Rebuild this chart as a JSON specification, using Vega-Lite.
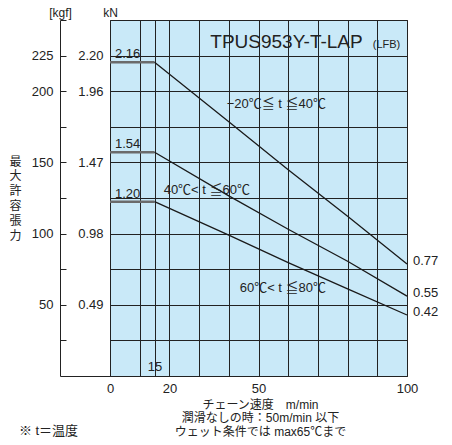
{
  "$schema": "https://vega.github.io/schema/vega-lite/v6.json",
  "width": 297,
  "height": 356,
  "autosize": {"type": "none"},
  "padding": {"left": 110, "top": 20, "right": 45, "bottom": 69},
  "background": "white",
  "config": {
    "view": {"fill": "#c9e9f8", "stroke": "#222222", "strokeWidth": 1},
    "font": "Liberation Sans, Noto Sans CJK JP",
    "axis": {
      "labelFont": "Liberation Sans, Noto Sans CJK JP",
      "titleFont": "Liberation Sans, Noto Sans CJK JP",
      "labelColor": "#222222",
      "titleColor": "#222222",
      "titleFontWeight": "normal",
      "gridColor": "#222222",
      "gridOpacity": 1,
      "gridWidth": 1,
      "domainColor": "#222222",
      "tickColor": "#222222",
      "labelFontSize": 13
    },
    "text": {"font": "Liberation Sans, Noto Sans CJK JP", "color": "#222222", "fontSize": 13}
  },
  "datasets": {
    "flat": [
      {"series": "-20~40", "speed": 0, "kN": 2.16},
      {"series": "-20~40", "speed": 15, "kN": 2.16},
      {"series": "40~60", "speed": 0, "kN": 1.54},
      {"series": "40~60", "speed": 15, "kN": 1.54},
      {"series": "60~80", "speed": 0, "kN": 1.2},
      {"series": "60~80", "speed": 15, "kN": 1.2}
    ],
    "slope": [
      {"series": "-20~40", "speed": 15, "kN": 2.16},
      {"series": "-20~40", "speed": 40, "kN": 1.75},
      {"series": "-20~40", "speed": 60, "kN": 1.42},
      {"series": "-20~40", "speed": 80, "kN": 1.1},
      {"series": "-20~40", "speed": 100, "kN": 0.77},
      {"series": "40~60", "speed": 15, "kN": 1.54},
      {"series": "40~60", "speed": 40, "kN": 1.24},
      {"series": "40~60", "speed": 60, "kN": 1.01},
      {"series": "40~60", "speed": 80, "kN": 0.79},
      {"series": "40~60", "speed": 100, "kN": 0.55},
      {"series": "60~80", "speed": 15, "kN": 1.2},
      {"series": "60~80", "speed": 40, "kN": 0.97},
      {"series": "60~80", "speed": 60, "kN": 0.78},
      {"series": "60~80", "speed": 80, "kN": 0.6},
      {"series": "60~80", "speed": 100, "kN": 0.42}
    ],
    "startLabels": [
      {"speed": 0, "kN": 2.16, "text": "2.16"},
      {"speed": 0, "kN": 1.54, "text": "1.54"},
      {"speed": 0, "kN": 1.2, "text": "1.20"}
    ],
    "endLabels": [
      {"speed": 100, "kN": 0.77, "text": "0.77"},
      {"speed": 100, "kN": 0.55, "text": "0.55"},
      {"speed": 100, "kN": 0.42, "text": "0.42"}
    ],
    "seriesLabels": [
      {"speed": 56, "kN": 1.874, "text": "−20℃≦ t ≦40℃"},
      {"speed": 32.6, "kN": 1.283, "text": "40℃< t ≦60℃"},
      {"speed": 58.2, "kN": 0.604, "text": "60℃< t ≦80℃"}
    ]
  },
  "layer": [
    {
      "data": {"name": "flat"},
      "mark": {"type": "line", "color": "#6b6b6b", "strokeWidth": 2.5},
      "encoding": {
        "x": {
          "field": "speed", "type": "quantitative",
          "scale": {"domain": [0, 100], "nice": false},
          "axis": {
            "orient": "bottom", "values": [0, 20, 50, 100], "grid": false, "ticks": false, "domain": false,
            "labelPadding": 6, "labelFlush": false,
            "title": ["チェーン速度　m/min", "潤滑なしの時：50m/min 以下", "ウェット条件では max65℃まで"],
            "titleFontSize": 12, "titleLineHeight": 13.5, "titleAlign": "center", "titleBaseline": "top",
            "titleX": 150, "titleY": 23
          }
        },
        "y": {
          "field": "kN", "type": "quantitative",
          "scale": {"domain": [0, 2.45], "nice": false},
          "axis": {
            "orient": "left", "offset": 50, "grid": false,
            "values": [0, 0.245, 0.49, 0.735, 0.98, 1.225, 1.47, 1.715, 1.96, 2.205, 2.45],
            "domain": true, "ticks": true,
            "tickSize": {"condition": {"test": "datum.value < 0.1", "value": -50}, "value": -6},
            "labelPadding": 13,
            "labelExpr": "indexof([50,100,150,200,225], round(datum.value/0.0098)) >= 0 ? format(round(datum.value/0.0098),'d') : ''",
            "title": ["最", "大", "許", "容", "張", "力"],
            "titleAngle": 0, "titleFontSize": 12, "titleLineHeight": 14.8,
            "titleAlign": "center", "titleBaseline": "top", "titleX": -45, "titleY": 136
          }
        },
        "detail": {"field": "series"}
      }
    },
    {
      "data": {"name": "slope"},
      "mark": {"type": "line", "color": "#1a1a1a", "strokeWidth": 1.3},
      "encoding": {
        "x": {
          "field": "speed", "type": "quantitative",
          "scale": {"domain": [0, 100], "nice": false},
          "axis": {
            "orient": "bottom", "values": [0, 10, 15, 20, 30, 40, 50, 60, 70, 80, 90, 100],
            "grid": true, "ticks": false, "domain": false,
            "labelExpr": "datum.value == 15 ? '15' : ''", "labelBaseline": "middle", "labelPadding": -10,
            "labelFlush": false, "labelOverlap": false,
            "title": "(LFB)", "titleFontSize": 11, "titleAlign": "center", "titleBaseline": "middle",
            "titleX": 276, "titleY": -332
          }
        },
        "y": {
          "field": "kN", "type": "quantitative",
          "scale": {"domain": [0, 2.45], "nice": false},
          "axis": {
            "orient": "left", "offset": 7, "grid": false, "domain": false, "ticks": false,
            "values": [0.49, 0.98, 1.47, 1.96, 2.205],
            "labelPadding": 0,
            "labelExpr": "round(datum.value/0.0098) == 225 ? '2.20' : format(datum.value, '.2f')",
            "title": "kN", "titleAngle": 0, "titleFontSize": 12, "titleAlign": "center", "titleBaseline": "middle",
            "titleX": 7, "titleY": -8
          }
        },
        "detail": {"field": "series"}
      }
    },
    {
      "data": {"name": "startLabels"},
      "mark": {"type": "text", "align": "left", "baseline": "middle", "dx": 5, "dy": -8},
      "encoding": {
        "x": {
          "field": "speed", "type": "quantitative",
          "scale": {"domain": [0, 100], "nice": false},
          "axis": {
            "orient": "bottom", "grid": false, "ticks": false, "domain": false, "labels": false,
            "title": "※ t＝温度", "titleFontSize": 13, "titleAlign": "center", "titleBaseline": "middle",
            "titleX": -62, "titleY": 54
          }
        },
        "y": {
          "field": "kN", "type": "quantitative",
          "scale": {"domain": [0, 2.45], "nice": false},
          "axis": {
            "orient": "left", "grid": true, "ticks": false, "domain": false, "labels": false,
            "values": [0, 0.245, 0.49, 0.735, 0.98, 1.225, 1.47, 1.715, 1.96, 2.205, 2.45],
            "title": "[kgf]", "titleAngle": 0, "titleFontSize": 12, "titleAlign": "center", "titleBaseline": "middle",
            "titleX": -50, "titleY": -8
          }
        },
        "text": {"field": "text"}
      }
    },
    {
      "data": {"name": "endLabels"},
      "mark": {"type": "text", "align": "left", "baseline": "middle", "dx": 6, "dy": -3},
      "encoding": {
        "x": {"field": "speed", "type": "quantitative", "scale": {"domain": [0, 100], "nice": false}, "axis": null},
        "y": {"field": "kN", "type": "quantitative", "scale": {"domain": [0, 2.45], "nice": false}, "axis": null},
        "text": {"field": "text"}
      }
    },
    {
      "data": {"name": "seriesLabels"},
      "mark": {"type": "text", "align": "center", "baseline": "middle"},
      "encoding": {
        "x": {
          "field": "speed", "type": "quantitative",
          "scale": {"domain": [0, 100], "nice": false},
          "axis": {
            "orient": "top", "grid": false, "ticks": false, "domain": false, "labels": false,
            "title": "TPUS953Y-T-LAP", "titleFontSize": 19, "titleAlign": "center", "titleBaseline": "middle",
            "titleX": 176, "titleY": 21
          }
        },
        "y": {"field": "kN", "type": "quantitative", "scale": {"domain": [0, 2.45], "nice": false}, "axis": null},
        "text": {"field": "text"}
      }
    }
  ],
  "resolve": {"axis": {"x": "independent", "y": "independent"}}
}
